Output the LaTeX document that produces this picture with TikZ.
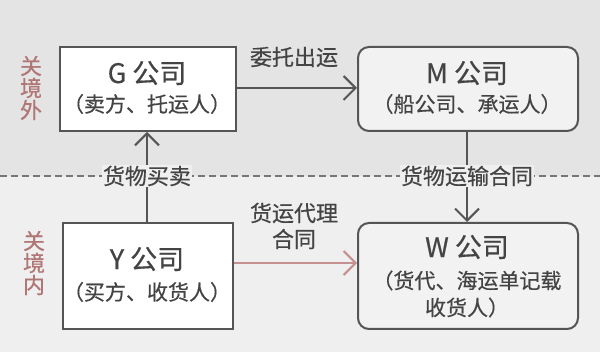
\documentclass[tikz,border=0pt]{standalone}
\usepackage{fontspec}
\setmainfont{Noto Sans CJK SC}[FakeBold=0.5]
\usetikzlibrary{arrows.meta}
\definecolor{bgtop}{HTML}{E4E4E4}
\definecolor{bgbot}{HTML}{EFEFEF}
\definecolor{edge}{HTML}{555555}
\definecolor{txt}{HTML}{444444}
\definecolor{zone}{HTML}{B07575}
\definecolor{redline}{HTML}{C49090}
\definecolor{softfill}{HTML}{F2F2F2}
\tikzset{
  title/.style={font=\fontsize{27}{29}\selectfont, text=txt},
  sub/.style={font=\fontsize{21}{27}\selectfont, text=txt, align=center},
  lbl/.style={font=\fontsize{22}{26}\selectfont, text=txt, align=center, inner sep=1pt},
  zonelbl/.style={font=\fontsize{22}{22}\selectfont, text=zone, align=center},
  conn/.style={draw=edge, line width=2pt, -{Straight Barb[length=12pt, width=24pt, line width=2pt]}},
  redconn/.style={draw=redline, line width=2pt, -{Straight Barb[length=12pt, width=24pt, line width=2pt]}},
}
\begin{document}
\begin{tikzpicture}[x=1pt, y=-1pt]
\useasboundingbox (0,0) rectangle (600,352);
\fill[bgtop] (0,0) rectangle (600,176);
\fill[bgbot] (0,176) rectangle (600,352);
\draw[color=edge!80, line width=1.8pt, dash pattern=on 7pt off 4pt] (0,176) -- (600,176);

% boxes
\node[draw=edge, line width=2pt, fill=white, minimum width=176pt, minimum height=84pt, anchor=north west] (G) at (59,46) {};
\node[draw=edge, line width=2pt, fill=softfill, rounded corners=11pt, minimum width=220pt, minimum height=84pt, anchor=north west] (M) at (357,46) {};
\node[draw=edge, line width=2pt, fill=white, minimum width=170pt, minimum height=106pt, anchor=north west] (Y) at (62,222) {};
\node[draw=edge, line width=2pt, fill=softfill, rounded corners=11pt, minimum width=220pt, minimum height=106pt, anchor=north west] (W) at (357,222) {};

% texts in boxes
\node[title] (Gt) at (147,73) {G 公司};
\node[sub] (Gs) at (147,104) {（卖方、托运人）};
\node[title] (Mt) at (467,73) {M 公司};
\node[sub] (Ms) at (467,104) {（船公司、承运人）};
\node[title] (Yt) at (147,259) {Y 公司};
\node[sub] (Ys) at (147,292) {（买方、收货人）};
\node[title] (Wt) at (467,247) {W 公司};
\node[sub] (Ws) at (467,294) {（货代、海运单记载\\收货人）};

% zone labels
\node[zonelbl] (out) at (31,88) {关\\境\\外};
\node[zonelbl] (in) at (34,263) {关\\境\\内};

% connectors
\draw[conn] (G.east |- 0,88) -- (M.west |- 0,88);
\node[lbl] (l1) at (294,57) {委托出运};
\draw[conn] (Y.north -| 147,0) -- (G.south -| 147,0);
\node[lbl, fill=bgbot] (l2) at (147,176) {货物买卖};
\draw[conn] (M.south -| 467,0) -- (W.north -| 467,0);
\node[lbl, fill=bgbot] (l3) at (467,176) {货物运输合同};
\draw[redconn] (Y.east |- 0,263) -- (W.west |- 0,263);
\node[lbl] (l4) at (294,226) {货运代理\\合同};
\end{tikzpicture}
\end{document}
